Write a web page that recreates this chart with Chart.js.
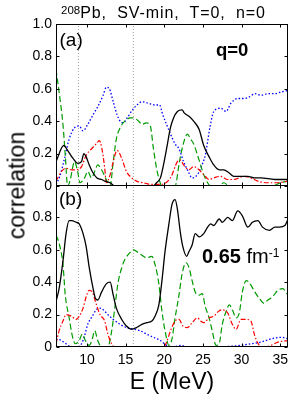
<!DOCTYPE html>
<html><head><meta charset="utf-8">
<script src="https://cdn.jsdelivr.net/npm/chart.js@4/dist/chart.umd.min.js"></script>
<style>
body{margin:0;width:291px;height:394px;background:#fff;position:relative;overflow:hidden;font-family:"Liberation Sans",Arial,sans-serif;color:#000;}
.box{position:absolute;left:0;width:291px;}
#wa{top:0;height:190px}
#wb{top:180px;height:214px}
.t{position:absolute;white-space:nowrap;line-height:1;}
</style></head><body>
<div id="wa" class="box"><canvas id="ca"></canvas></div>
<div id="wb" class="box"><canvas id="cb"></canvas></div>
<div class="t" style="left:61px;top:4.5px;font-size:16px;letter-spacing:0.9px;word-spacing:5px;"><span style="font-size:11.5px;position:relative;top:-4px;letter-spacing:0;">208</span>Pb, SV-min, T=0, n=0</div>
<div class="t" style="left:-83px;top:174px;width:200px;height:23px;line-height:23px;font-size:23px;text-align:center;transform:rotate(-90deg);">correlation</div>
<div class="t" style="left:59.5px;top:30px;font-size:19px;">(a)</div>
<div class="t" style="left:216px;top:41px;font-size:18.5px;font-weight:bold;">q=0</div>
<div class="t" style="left:59px;top:188.5px;font-size:19px;">(b)</div>
<div class="t" style="left:202px;top:246px;font-size:20px;"><b>0.65</b> fm<span style="font-size:12px;position:relative;top:-6px;">-1</span></div>
<script>
// ---- data (E in MeV, correlation values) ----
const xTickVals = [10, 15, 20, 25, 30, 35];
const yTickVals = [0, 0.2, 0.4, 0.6, 0.8, 1.0];
const refLineE = [8.9, 16.0];

// panel (a), q = 0
const aBlackE = [6,7.0,7.5,8.2,8.8,9.3,9.6,9.9,10.3,10.8,11.3,11.9,12.3,13.0,13.6,15,17,18.6,19.0,19.5,19.9,20.3,20.8,21.2,21.7,22.3,22.6,23.2,23.8,24.5,25.1,25.8,26.4,27.1,27.7,28.4,29.0,29.9,30.8,31.7,32.5,34.3,36];
const aBlackV = [0.15,0.25,0.22,0.17,0.14,0.15,0.20,0.18,0.13,0.08,0.05,0.04,0.03,0.02,0,0,0,0,0.02,0.05,0.13,0.23,0.36,0.42,0.46,0.47,0.45,0.43,0.40,0.35,0.25,0.18,0.13,0.10,0.10,0.08,0.06,0.06,0.06,0.05,0.05,0.04,0.04];
const aBlueE = [6,6.5,7.1,7.7,8.4,9.0,9.5,10.1,10.8,11.4,12.1,12.5,12.9,13.4,13.9,14.3,14.7,15.2,15.9,16.7,17.1,18.0,18.8,19.4,19.8,20.3,20.9,21.4,21.9,22.5,23.1,23.6,24.3,24.7,25.3,25.9,26.4,27.3,28.0,28.6,29.5,30.3,31.0,31.7,32.5,33.4,34.3,35.1,36];
const aBlueV = [0.01,0.06,0.17,0.29,0.36,0.37,0.34,0.38,0.44,0.49,0.56,0.61,0.60,0.52,0.44,0.40,0.39,0.42,0.47,0.51,0.52,0.51,0.50,0.50,0.44,0.38,0.31,0.26,0.23,0.15,0.09,0.05,0.07,0.11,0.19,0.36,0.46,0.48,0.46,0.51,0.54,0.54,0.55,0.57,0.56,0.57,0.57,0.58,0.59];
const aGreenE = [6,6.4,6.9,7.2,7.5,7.8,8.4,8.8,9.1,9.7,10.1,10.6,11.0,11.4,11.9,12.3,12.7,13.0,13.4,13.8,14.3,14.9,15.6,16.0,16.7,17.1,17.7,18.2,18.6,19.0,19.4,19.7,21.4,21.9,22.3,23.0,23.4,23.8,24.3,24.7,25.1,25.6,26.0,27.0,27.7,28.4,34,35,36];
const aGreenV = [0.72,0.58,0.38,0.19,0,0.03,0.15,0.09,0.02,0.05,0.09,0.05,0.09,0.13,0.10,0.06,0.02,0,0.15,0.29,0.36,0.40,0.42,0.42,0.40,0.38,0.39,0.37,0.23,0.11,0.03,0,0,0.13,0.23,0.32,0.29,0.26,0.19,0.13,0.07,0.02,0,0,0.02,0,0,0.02,0.03];
const aRedE = [6,6.7,7.3,8.0,8.6,9.3,9.9,10.6,11.2,11.6,11.9,12.3,12.5,13.0,13.4,13.9,14.5,15.1,15.8,16.4,17.3,18.2,19.5,20.8,21.7,22.1,22.5,23.2,23.8,24.5,25.1,25.8,26.4,27.3,28.2,29.0,30.3,31.2,32.1,33.4,34.7,36];
const aRedV = [0.03,0.09,0.11,0.10,0.10,0.12,0.19,0.23,0.26,0.28,0.24,0.11,0.02,0.07,0.15,0.22,0.17,0.09,0.05,0.03,0.02,0.01,0.01,0.05,0.15,0.16,0.13,0.10,0.12,0.10,0.07,0.04,0.05,0.06,0.04,0.04,0.06,0.05,0.03,0.02,0.02,0.03];

// panel (b), q = 0.65 fm^-1
const bBlackE = [6,6.4,6.9,7.3,7.7,8.0,8.6,9.0,9.5,9.9,10.3,10.8,11.1,11.4,11.9,12.5,13.0,13.4,13.8,14.5,15.1,15.8,16.4,17.1,17.7,18.4,18.8,19.3,19.7,20.1,20.6,21.0,21.4,21.7,22.1,22.4,22.9,23.2,23.6,24.0,24.5,25.1,25.6,26.0,26.4,27.1,27.5,28.2,28.8,29.5,30.1,30.8,31.4,32.1,32.7,33.6,34.3,34.9,35.6,36];
const bBlackV = [0.28,0.36,0.53,0.70,0.78,0.78,0.77,0.76,0.70,0.62,0.49,0.36,0.30,0.29,0.34,0.39,0.40,0.32,0.24,0.17,0.13,0.11,0.12,0.14,0.15,0.16,0.19,0.26,0.41,0.59,0.76,0.88,0.91,0.85,0.70,0.62,0.56,0.59,0.63,0.70,0.68,0.70,0.74,0.76,0.75,0.79,0.77,0.80,0.78,0.84,0.81,0.74,0.77,0.78,0.74,0.72,0.74,0.74,0.75,0.79];
const bGreenE = [6,6.4,6.9,7.2,7.7,8.1,8.5,9.0,9.4,9.8,10.3,10.7,11.0,11.4,11.9,12.7,13.2,13.6,14.0,14.5,14.9,15.5,16.0,16.7,17.3,17.7,18.4,18.8,19.3,19.7,20.1,20.6,21.0,21.4,21.9,22.3,22.8,23.2,23.6,24.0,24.5,24.9,25.3,25.8,26.2,26.7,27.1,27.5,28.0,28.4,28.8,29.3,29.7,30.1,30.6,31.1,31.7,32.3,32.9,33.4,34.0,34.7,35.3,36];
const bGreenV = [0.69,0.64,0.51,0.32,0.18,0.07,0.02,0.04,0.08,0.04,0.01,0.05,0.10,0.04,0,0,0.10,0.24,0.39,0.49,0.54,0.58,0.60,0.58,0.56,0.55,0.56,0.51,0.39,0.22,0.10,0.01,0.05,0.18,0.32,0.45,0.52,0.49,0.41,0.34,0.32,0.33,0.25,0.18,0.10,0.01,0.02,0.14,0.22,0.26,0.23,0.18,0.21,0.34,0.41,0.39,0.34,0.30,0.27,0.29,0.31,0.35,0.36,0.32];
const bRedE = [6,6.4,6.9,7.3,8.0,8.6,9.0,9.5,9.9,10.3,10.7,11.1,11.7,12.3,12.7,13.2,13.6,19.9,20.3,20.8,21.4,21.9,22.4,23.0,23.6,24.3,24.7,25.1,25.8,26.4,27.0,27.5,28.2,28.8,29.3,29.9,30.6,31.2,31.7,32.3,33.0,33.8,34.7,36];
const bRedV = [0.02,0.10,0.16,0.20,0.19,0.17,0.19,0.24,0.31,0.35,0.34,0.28,0.20,0.16,0.08,0.02,0,0,0.03,0.10,0.16,0.17,0.13,0.12,0.15,0.18,0.16,0.15,0.18,0.19,0.22,0.23,0.21,0.14,0.11,0.17,0.17,0.16,0.07,0.01,0,0.01,0.03,0.04];
const bBlueE = [6,6.7,7.3,8.0,8.6,9.3,9.7,10.1,10.7,11.2,11.7,12.1,12.7,13.4,14.3,15.1,16.0,16.9,17.7,18.6,19.5,20.3,21.2,22.1,23.0,25.6,29.9,31.2,32.5,33.8,35.1,36];
const bBlueV = [0.05,0.04,0.02,0,0,0.02,0.07,0.14,0.19,0.23,0.24,0.23,0.20,0.17,0.14,0.12,0.11,0.10,0.08,0.06,0.04,0.01,0,0.01,0,0,0.01,0.02,0.03,0.05,0.06,0.05];

// ---- styles ----
Chart.defaults.font.family = '"Liberation Sans", Arial, sans-serif';
Chart.defaults.font.size = 14;
Chart.defaults.color = '#000';

const pts = (E, V) => E.map((e, i) => ({x: e, y: V[i]}));
function series(E, V, color, dash, width) {
  return {data: pts(E, V), borderColor: color, borderDash: dash, borderWidth: width,
    pointRadius: 0, fill: false, cubicInterpolationMode: 'monotone', borderCapStyle: 'butt'};
}
function refLines() {
  return refLineE.map(e => ({data: [{x: e, y: 0}, {x: e, y: 1}], borderColor: '#a0a0a0',
    borderDash: [1, 2], borderWidth: 1, pointRadius: 0, fill: false}));
}

const framePlugin = {
  id: 'frame',
  afterDatasetsDraw(chart) {
    const {ctx, chartArea: a, scales: {x, y}} = chart;
    ctx.save();
    ctx.strokeStyle = '#000'; ctx.lineWidth = 1; ctx.setLineDash([]);
    const L = Math.round(a.left) + 0.5, R = Math.round(a.right) - 0.5;
    const T = Math.round(a.top) + 0.5, B = Math.round(a.bottom) - 0.5;
    ctx.strokeRect(L, T, R - L, B - T);
    ctx.beginPath();
    for (const v of xTickVals) {
      const px = Math.round(x.getPixelForValue(v)) + 0.5;
      ctx.moveTo(px, B); ctx.lineTo(px, B - 3);
      ctx.moveTo(px, T); ctx.lineTo(px, T + 3);
    }
    for (const v of yTickVals) {
      const py = Math.round(y.getPixelForValue(v)) + 0.5;
      ctx.moveTo(L, py); ctx.lineTo(L + 3, py);
      ctx.moveTo(R, py); ctx.lineTo(R - 3, py);
    }
    ctx.stroke();
    ctx.restore();
  }
};

function makeChart(id, sets, showX, hideTop, padding) {
  return new Chart(document.getElementById(id), {
    type: 'line',
    data: {datasets: sets},
    options: {
      responsive: true, maintainAspectRatio: false, animation: false,
      layout: {padding: padding},
      plugins: {legend: {display: false}, tooltip: {enabled: false}},
      scales: {
        x: {
          type: 'linear', min: 6, max: 36, display: showX,
          grid: {display: false, drawTicks: false}, border: {display: false},
          afterBuildTicks: s => { s.ticks = xTickVals.map(v => ({value: v})); },
          afterFit: s => { if (showX) s.height = 47; s.paddingLeft = 0; s.paddingRight = 0; },
          ticks: {padding: 5, font: {size: 14}, maxRotation: 0, autoSkip: false},
          title: {display: showX, text: 'E (MeV)', font: {size: 23, lineHeight: 1}, padding: {top: 0, bottom: 0}}
        },
        y: {
          type: 'linear', min: 0, max: 1,
          grid: {display: false, drawTicks: false}, border: {display: false},
          afterBuildTicks: s => { s.ticks = yTickVals.map(v => ({value: v})); },
          afterFit: s => { s.width = 56; s.paddingTop = 0; s.paddingBottom = 0; },
          ticks: {padding: 4, font: {size: 14},
            callback: v => (hideTop && v >= 0.99) ? '' : (v === 0 ? '0' : Number(v).toFixed(1))}
        }
      }
    },
    plugins: [framePlugin]
  });
}

makeChart('ca', [
  series(aBlackE, aBlackV, '#000000', [], 1.3),
  series(aRedE, aRedV, '#ff0000', [5, 2, 1.5, 2], 1.2),
  series(aGreenE, aGreenV, '#009a00', [6, 3], 1.2),
  series(aBlueE, aBlueV, '#0000ff', [1.5, 2], 1.3),
  ...refLines()
], false, false, {left: 0, right: 3, top: 24, bottom: 4});

makeChart('cb', [
  series(bBlackE, bBlackV, '#000000', [], 1.3),
  series(bRedE, bRedV, '#ff0000', [5, 2, 1.5, 2], 1.2),
  series(bGreenE, bGreenV, '#009a00', [6, 3], 1.2),
  series(bBlueE, bBlueV, '#0000ff', [1.5, 2], 1.3),
  ...refLines()
], true, true, {left: 0, right: 3, top: 5, bottom: 0});
</script>
</body></html>
